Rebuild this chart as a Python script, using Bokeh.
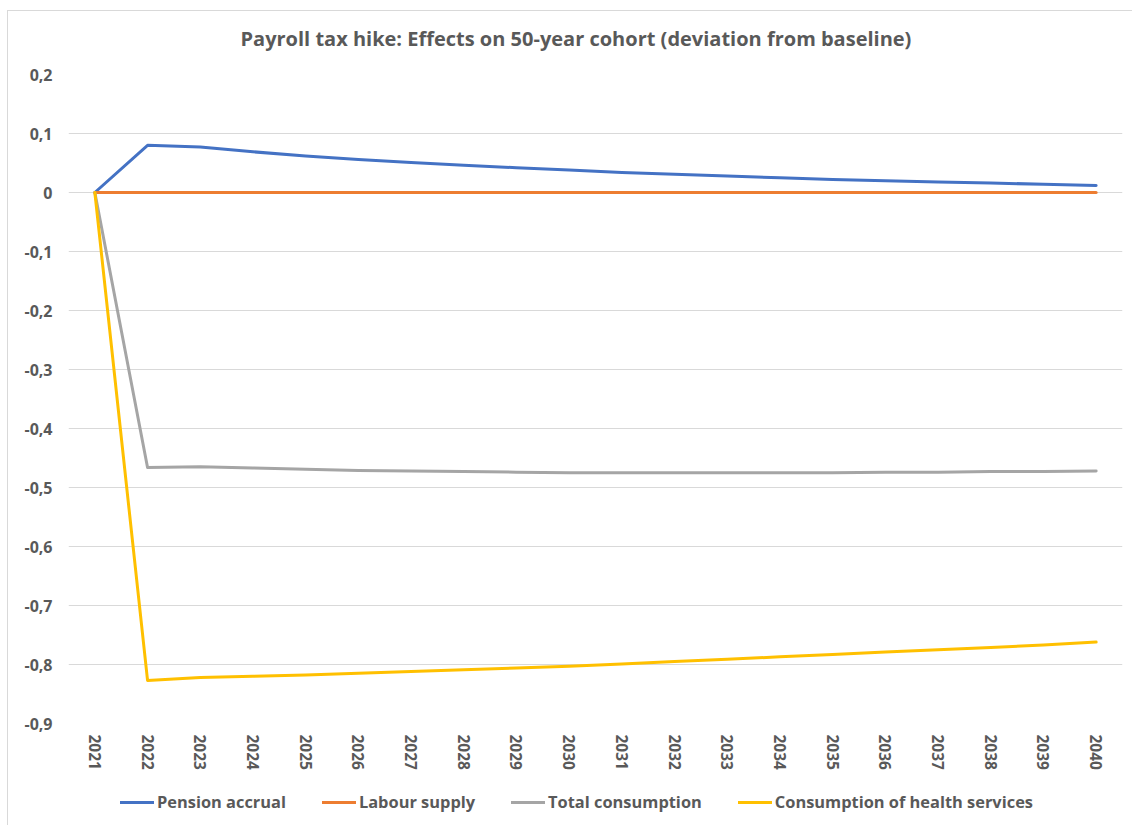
from bokeh.plotting import figure
from bokeh.layouts import column
from bokeh.models import (FactorRange, Range1d, FixedTicker, CustomJSTickFormatter,
                          Legend, LegendItem, ColumnDataSource)
from bokeh.embed import file_html
from bokeh.resources import INLINE

# ---- data -----------------------------------------------------------------
years = [str(y) for y in range(2021, 2041)]

pension_accrual = [0.000, 0.080, 0.077, 0.069, 0.062, 0.056, 0.051, 0.046, 0.042, 0.038,
                   0.034, 0.031, 0.028, 0.025, 0.022, 0.020, 0.018, 0.016, 0.014, 0.012]
labour_supply = [0.000, 0.000, 0.000, 0.000, 0.000, 0.000, 0.000, 0.000, 0.000, 0.000,
                 0.000, 0.000, 0.000, 0.000, 0.000, 0.000, 0.000, 0.000, 0.000, 0.000]
total_consumption = [0.000, -0.466, -0.465, -0.467, -0.469, -0.471, -0.472, -0.473, -0.474, -0.475,
                     -0.475, -0.475, -0.475, -0.475, -0.475, -0.474, -0.474, -0.473, -0.473, -0.472]
health_consumption = [0.000, -0.827, -0.822, -0.820, -0.818, -0.815, -0.812, -0.809, -0.806, -0.803,
                      -0.799, -0.795, -0.791, -0.787, -0.783, -0.779, -0.775, -0.771, -0.767, -0.762]

series_names = ["Pension accrual", "Labour supply", "Total consumption",
                "Consumption of health services"]
series_values = [pension_accrual, labour_supply, total_consumption, health_consumption]
series_colors = ["#4472C4", "#ED7D31", "#A5A5A5", "#FFC000"]

y_ticks = [0.2, 0.1, 0.0, -0.1, -0.2, -0.3, -0.4, -0.5, -0.6, -0.7, -0.8, -0.9]

title_text = "Payroll tax hike: Effects on 50-year cohort (deviation from baseline)"

# ---- styling ----------------------------------------------------------------
TEXT = "#595959"
GRID = "#D9D9D9"
FONT = "Open Sans"
LINE_W = 3
WIDTH = 1124


def bare_strip(height, **kw):
    """A figure without axes or grid, used for the title and legend strips."""
    f = figure(width=WIDTH, height=height, output_backend="svg", toolbar_location=None,
               x_range=FactorRange(*years, range_padding=0), y_range=Range1d(-0.9, 0.2),
               x_axis_type=None, y_axis_type=None, **kw)
    f.outline_line_color = None
    f.grid.visible = False
    f.background_fill_color = "white"
    f.border_fill_color = "white"
    return f


# ---- title strip ----------------------------------------------------------
tf = bare_strip(51, min_border_top=45, min_border_bottom=0,
                min_border_left=0, min_border_right=0)
tf.title.text = title_text
tf.title.align = "left"
tf.title.offset = 172
tf.title.text_font = FONT
tf.title.text_font_style = "bold"
tf.title.text_font_size = "20px"
tf.title.text_color = TEXT
tf.title.standoff = 10

# ---- main chart -------------------------------------------------------------
p = figure(
    x_range=FactorRange(*years, range_padding=0),
    y_range=Range1d(-0.9, 0.2),
    width=WIDTH, height=719,
    output_backend="svg", toolbar_location=None,
    min_border_left=60, min_border_right=10,
    min_border_top=12, min_border_bottom=58,
)
p.outline_line_color = None
p.background_fill_color = "white"
p.border_fill_color = "white"

# y axis
p.yaxis.ticker = FixedTicker(ticks=y_ticks)
p.yaxis.formatter = CustomJSTickFormatter(code="""
    const v = Math.round(tick * 10) / 10;
    if (v === 0) { return "0"; }
    return v.toFixed(1).replace(".", ",");
""")
p.yaxis.axis_line_color = None
p.yaxis.major_tick_line_color = None
p.yaxis.minor_tick_line_color = None
p.yaxis.major_label_standoff = 10
p.yaxis.major_label_text_font = FONT
p.yaxis.major_label_text_font_style = "bold"
p.yaxis.major_label_text_font_size = "16px"
p.yaxis.major_label_text_color = TEXT

# x axis (categorical years, vertical labels)
p.xaxis.axis_line_color = None
p.xaxis.major_tick_line_color = None
p.xaxis.minor_tick_line_color = None
p.xaxis.major_label_orientation = "vertical"
p.xaxis.major_label_standoff = 5
p.xaxis.major_label_text_font = FONT
p.xaxis.major_label_text_font_style = "bold"
p.xaxis.major_label_text_font_size = "15.5px"
p.xaxis.major_label_text_color = TEXT

p.xgrid.grid_line_color = None
p.ygrid.grid_line_color = GRID
p.ygrid.grid_line_width = 1

# series lines
for name, vals, color in zip(series_names, series_values, series_colors):
    src = ColumnDataSource(data=dict(year=years, value=vals))
    p.line("year", "value", source=src, line_color=color, line_width=LINE_W,
           line_join="round", line_cap="round")

# ---- legend strip (its hidden renderers only supply legend swatches) -------
lf = bare_strip(44, min_border=0)

items = []
for name, vals, color in zip(series_names, series_values, series_colors):
    src = ColumnDataSource(data=dict(year=years, value=vals))
    r = lf.line("year", "value", source=src, line_color=color, line_width=LINE_W,
                line_cap="round", visible=False)
    items.append(LegendItem(label=name, renderers=[r]))

legend = Legend(items=items, orientation="horizontal", location=(52, 12))
legend.glyph_width = 34
legend.glyph_height = 20
legend.label_standoff = 3
legend.spacing = 36
legend.padding = 0
legend.margin = 0
legend.border_line_color = None
legend.background_fill_alpha = 0
legend.inactive_fill_alpha = 0
legend.label_text_font = FONT
legend.label_text_font_style = "bold"
legend.label_text_font_size = "16.4px"
legend.label_text_color = TEXT
lf.add_layout(legend)

layout = column(tf, p, lf, spacing=0)
layout.margin = (10, 0, 0, 7)
layout.styles = {"border-left": f"1px solid {GRID}", "border-top": f"1px solid {GRID}",
                 "background-color": "white"}

open("out.html", "w").write(file_html(layout, INLINE))
